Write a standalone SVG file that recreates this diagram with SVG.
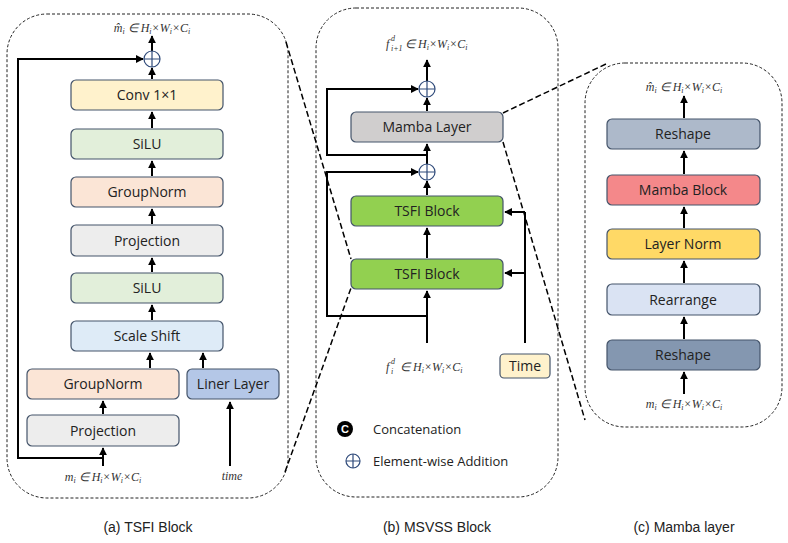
<svg xmlns="http://www.w3.org/2000/svg" width="788" height="543" viewBox="0 0 788 543">
<defs>
<marker id="ah" viewBox="0 0 10 10" refX="9" refY="5" markerWidth="4" markerHeight="4" orient="auto"><path d="M0,0L10,5L0,10z" fill="#000"/></marker>
<style>
.box{stroke:#44546a;stroke-width:1.2}
.t{font-family:"Open Sans","Liberation Sans",sans-serif;font-size:14px;text-anchor:middle;fill:#222}
.m{font-family:"Liberation Serif",serif;font-style:italic;font-size:12px;text-anchor:middle;fill:#333}
.ms{font-family:"Liberation Serif",serif;font-style:italic;font-size:12px;fill:#333}
.s{font-size:8px}
.c{fill:none;stroke:#000;stroke-width:2}
.a{fill:none;stroke:#000;stroke-width:2;marker-end:url(#ah)}
.pan{fill:none;stroke:#222;stroke-width:1;stroke-dasharray:3,2}
.z{fill:none;stroke:#000;stroke-width:1.5;stroke-dasharray:6,3}
.plus{fill:#fff;stroke:#2f4a7a;stroke-width:1.2}
.cap{font-family:"Liberation Sans",sans-serif;font-size:14px;text-anchor:middle;fill:#222}
</style>
</defs>
<rect width="788" height="543" fill="#fff"/>
<rect class="pan" x="7" y="14" width="281" height="484" rx="40"/>
<rect class="pan" x="316" y="8" width="242" height="489" rx="40"/>
<rect class="pan" x="585" y="63" width="197" height="364" rx="40"/>
<g id="zoomlines">
<line class="z" x1="286" y1="42" x2="351" y2="259"/>
<line class="z" x1="285" y1="472" x2="351" y2="288"/>
<line class="z" x1="503" y1="113" x2="608" y2="63"/>
<line class="z" x1="503" y1="142" x2="585" y2="420"/>
</g>
<g id="connectors">
<path class="a" d="M152,51V36"/>
<path class="a" d="M152,79V68"/>
<path class="a" d="M152,128V112"/>
<path class="a" d="M152,176V161"/>
<path class="a" d="M152,224V209"/>
<path class="a" d="M152,272V258"/>
<path class="a" d="M152,320V305"/>
<path class="a" d="M150,368V353"/>
<path class="a" d="M203,368V353"/>
<path class="a" d="M103,414V401"/>
<path class="a" d="M103,466V448"/>
<path class="a" d="M103,458H18V59H143"/>
<path class="a" d="M230,466V402"/>
<path class="a" d="M427,81V60"/>
<path class="a" d="M427,111V98"/>
<path class="a" d="M427,164V144"/>
<path class="a" d="M427,155H327V89H418"/>
<path class="a" d="M427,195V181"/>
<path class="a" d="M427,258V228"/>
<path class="a" d="M427,343V291"/>
<path class="a" d="M427,316H327V172H418"/>
<path class="c" d="M525,343V212"/>
<path class="a" d="M525,212H505"/>
<path class="a" d="M525,273H505"/>
<path class="a" d="M684,118V96"/>
<path class="a" d="M684,174V151"/>
<path class="a" d="M684,228V207"/>
<path class="a" d="M684,283V261"/>
<path class="a" d="M684,339V317"/>
<path class="a" d="M684,394V372"/>
</g>
<g id="plusA"><circle class="plus" cx="152" cy="59" r="8"/><path d="M144,59H160M152,51V67" stroke="#2f4a7a" stroke-width="1.2"/></g>
<g id="plusB1"><circle class="plus" cx="427" cy="89" r="8"/><path d="M419,89H435M427,81V97" stroke="#2f4a7a" stroke-width="1.2"/></g>
<g id="plusB2"><circle class="plus" cx="427" cy="172" r="8"/><path d="M419,172H435M427,164V180" stroke="#2f4a7a" stroke-width="1.2"/></g>
<g id="conv"><rect class="box" x="71" y="80" width="152" height="30" rx="5" fill="#fff2cc"/><text class="t" x="147" y="100">Conv 1×1</text></g>
<g id="silu1"><rect class="box" x="71" y="129" width="152" height="30" rx="5" fill="#e2efda"/><text class="t" x="147" y="149">SiLU</text></g>
<g id="gn1"><rect class="box" x="71" y="177" width="152" height="30" rx="5" fill="#fbe5d6"/><text class="t" x="147" y="197">GroupNorm</text></g>
<g id="proj1"><rect class="box" x="71" y="225" width="152" height="31" rx="5" fill="#ededed"/><text class="t" x="147" y="246">Projection</text></g>
<g id="silu2"><rect class="box" x="71" y="273" width="152" height="30" rx="5" fill="#e2efda"/><text class="t" x="147" y="293">SiLU</text></g>
<g id="scale"><rect class="box" x="71" y="321" width="152" height="30" rx="5" fill="#deebf7"/><text class="t" x="147" y="341">Scale Shift</text></g>
<g id="gn2"><rect class="box" x="27" y="369" width="152" height="30" rx="5" fill="#fbe5d6"/><text class="t" x="103" y="389">GroupNorm</text></g>
<g id="liner"><rect class="box" x="187" y="369" width="92" height="30" rx="5" fill="#b4c7e7"/><text class="t" x="233" y="389">Liner Layer</text></g>
<g id="proj2"><rect class="box" x="27" y="415" width="152" height="31" rx="5" fill="#ededed"/><text class="t" x="103" y="436">Projection</text></g>
<text class="m" x="152" y="32">m̂<tspan class="s" dy="2">i</tspan><tspan dy="-2"> ∈ H</tspan><tspan class="s" dy="2">i</tspan><tspan dy="-2">×W</tspan><tspan class="s" dy="2">i</tspan><tspan dy="-2">×C</tspan><tspan class="s" dy="2">i</tspan></text>
<text class="m" x="103" y="481">m<tspan class="s" dy="2">i</tspan><tspan dy="-2"> ∈ H</tspan><tspan class="s" dy="2">i</tspan><tspan dy="-2">×W</tspan><tspan class="s" dy="2">i</tspan><tspan dy="-2">×C</tspan><tspan class="s" dy="2">i</tspan></text>
<text class="m" x="232" y="480">time</text>
<g id="mambaLayer"><rect class="box" x="351" y="112" width="152" height="30" rx="5" fill="#d0cece"/><text class="t" x="427" y="132">Mamba Layer</text></g>
<g id="tsfi1"><rect class="box" x="351" y="196" width="152" height="30" rx="5" fill="#92d050"/><text class="t" x="427" y="216">TSFI Block</text></g>
<g id="tsfi2"><rect class="box" x="351" y="259" width="152" height="30" rx="5" fill="#92d050"/><text class="t" x="427" y="279">TSFI Block</text></g>
<g id="time"><rect class="box" x="500" y="354" width="50" height="24" rx="4" fill="#fff2cc"/><text class="t" x="525" y="371">Time</text></g>
<text class="ms" x="386" y="48">f</text><text class="ms s" x="391" y="41">d</text><text class="ms s" x="391" y="51">i+1</text>
<text class="ms" x="405" y="48">∈ H<tspan class="s" dy="2">i</tspan><tspan dy="-2">×W</tspan><tspan class="s" dy="2">i</tspan><tspan dy="-2">×C</tspan><tspan class="s" dy="2">i</tspan></text>
<text class="ms" x="386" y="371">f</text><text class="ms s" x="391" y="364">d</text><text class="ms s" x="391" y="374">i</text>
<text class="ms" x="400" y="371">∈ H<tspan class="s" dy="2">i</tspan><tspan dy="-2">×W</tspan><tspan class="s" dy="2">i</tspan><tspan dy="-2">×C</tspan><tspan class="s" dy="2">i</tspan></text>
<g id="legend">
<circle cx="345" cy="429" r="8" fill="#000"/><text x="345" y="433" font-family="Liberation Sans,sans-serif" font-size="11" font-weight="bold" fill="#fff" text-anchor="middle">C</text>
<text x="373" y="434" font-family="Open Sans,Liberation Sans,sans-serif" font-size="13" fill="#222">Concatenation</text>
<circle class="plus" cx="353" cy="461" r="7"/><path d="M346,461H360M353,454V468" stroke="#2f4a7a" stroke-width="1.2"/>
<text x="373" y="466" font-family="Open Sans,Liberation Sans,sans-serif" font-size="13" fill="#222">Element-wise Addition</text>
</g>
<g id="reshape1"><rect class="box" x="607" y="119" width="153" height="30" rx="5" fill="#adb9ca"/><text class="t" x="683" y="139">Reshape</text></g>
<g id="mambaBlock"><rect class="box" x="607" y="175" width="153" height="30" rx="5" fill="#f4888a"/><text class="t" x="683" y="195">Mamba Block</text></g>
<g id="layerNorm"><rect class="box" x="607" y="229" width="153" height="30" rx="5" fill="#ffd966"/><text class="t" x="683" y="249">Layer Norm</text></g>
<g id="rearrange"><rect class="box" x="607" y="284" width="153" height="31" rx="5" fill="#dae3f3"/><text class="t" x="683" y="305">Rearrange</text></g>
<g id="reshape2"><rect class="box" x="607" y="340" width="153" height="30" rx="5" fill="#8497b0"/><text class="t" x="683" y="360">Reshape</text></g>
<text class="m" x="684" y="91">m̂<tspan class="s" dy="2">i</tspan><tspan dy="-2"> ∈ H</tspan><tspan class="s" dy="2">i</tspan><tspan dy="-2">×W</tspan><tspan class="s" dy="2">i</tspan><tspan dy="-2">×C</tspan><tspan class="s" dy="2">i</tspan></text>
<text class="m" x="684" y="408">m<tspan class="s" dy="2">i</tspan><tspan dy="-2"> ∈ H</tspan><tspan class="s" dy="2">i</tspan><tspan dy="-2">×W</tspan><tspan class="s" dy="2">i</tspan><tspan dy="-2">×C</tspan><tspan class="s" dy="2">i</tspan></text>
<text class="cap" x="148" y="532">(a) TSFI Block</text>
<text class="cap" x="437" y="532">(b) MSVSS Block</text>
<text class="cap" x="684" y="532">(c) Mamba layer</text>
</svg>
